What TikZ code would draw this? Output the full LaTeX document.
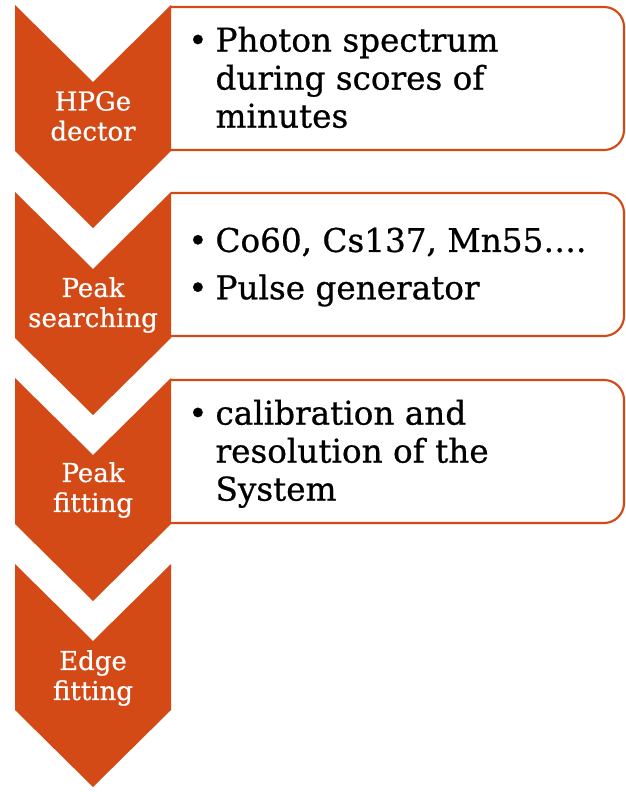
\documentclass[tikz,border=0pt]{standalone}
\usepackage{fontspec}
\setmainfont{DejaVu Serif}
\newfontfamily\heavyserif{DejaVu Serif}[FakeBold=0.7]
\definecolor{rust}{HTML}{D34A17}
\begin{document}
\begin{tikzpicture}[x=0.75pt,y=-0.75pt,
  chev/.style={fill=rust,draw=none},
  lbl/.style={text=white,align=center,inner sep=0pt,font=\heavyserif\fontsize{19.5}{22.5}\selectfont},
  boxline/.style={draw=rust,line width=1.6pt,rounded corners=15pt},
  txt/.style={anchor=west,inner sep=0pt,text=black,font=\heavyserif\fontsize{24.5}{28.5}\selectfont}]
\useasboundingbox[fill=white] (0,0) rectangle (625,792);
% boxes
\draw[boxline] (171,7) -- (624,7) -- (624,150) -- (171,150);
\draw[boxline] (171,193) -- (624,193) -- (624,336) -- (171,336);
\draw[boxline] (171,380) -- (624,380) -- (624,523) -- (171,523);
% chevrons
\foreach \y in {5,192,378,564}{
  \fill[chev] (15,\y) -- (93,\y+77) -- (171,\y) -- (171,\y+146) -- (93,\y+223) -- (15,\y+146) -- cycle;
}
% labels
\node[lbl] (l1) at (93,116) {HPGe\\dector};
\node[lbl] (l2) at (93,305) {Peak\\searching};
\node[lbl] (l3) at (93,490) {Peak\\fitting};
\node[lbl] (l4) at (93,678) {Edge\\fitting};
% texts
\node[txt] (t1) at (188,82) {\begin{tabular}{@{}l@{\hspace{6pt}}l@{}}•&Photon spectrum\\ &during scores of\\ &minutes\end{tabular}};
\node[txt] (t2) at (188,268) {\begin{tabular}{@{}l@{\hspace{6pt}}l@{}}•&Co60, Cs137, Mn55….\\[7pt] •&Pulse generator\end{tabular}};
\node[txt] (t3) at (188,455) {\begin{tabular}{@{}l@{\hspace{6pt}}l@{}}•&calibration and\\ &resolution of the\\ &System\end{tabular}};
\end{tikzpicture}
\end{document}
